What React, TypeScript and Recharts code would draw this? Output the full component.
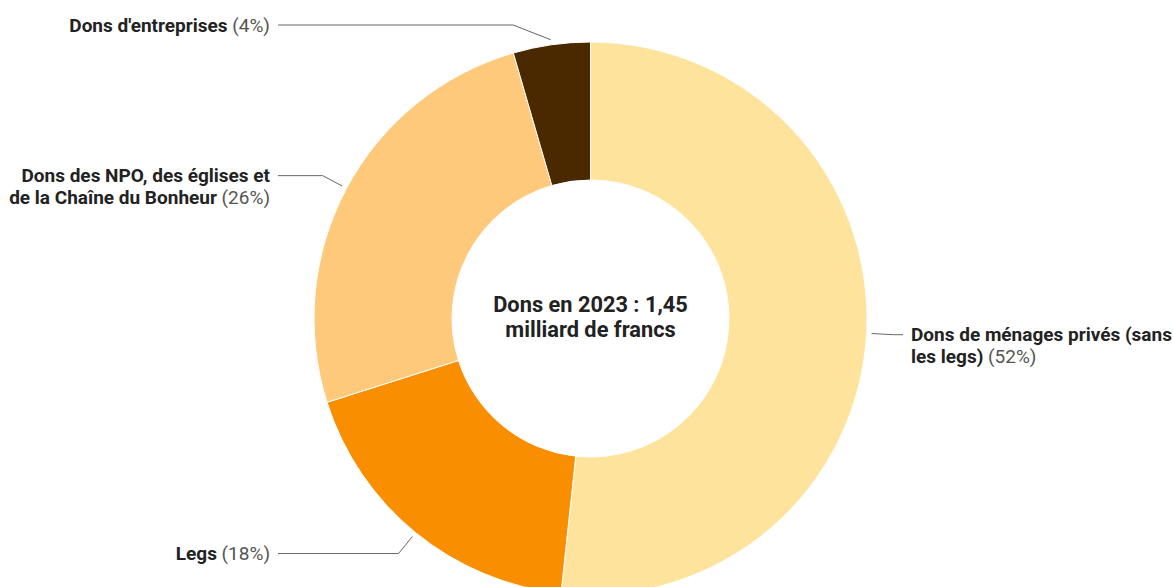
import { PieChart, Pie, Cell, Label } from "recharts";

const categories = [
  "Dons de ménages privés (sans les legs)",
  "Legs",
  "Dons des NPO, des églises et de la Chaîne du Bonheur",
  "Dons d'entreprises",
];

// label text as it wraps in the original
const labelLines = [
  ["Dons de ménages privés (sans", "les legs)"],
  ["Legs"],
  ["Dons des NPO, des églises et", "de la Chaîne du Bonheur"],
  ["Dons d'entreprises"],
];

// slice sizes (%)
const shares = [51.7, 18.4, 25.4, 4.5];

// percentages printed in the labels
const shareLabels = ["52%", "18%", "26%", "4%"];

const colors = ["#FEE39D", "#F98E00", "#FEC97A", "#4A2800"];

const centerTitle = ["Dons en 2023 : 1,45", "milliard de francs"];

const data = categories.map((name, i) => ({
  name,
  value: shares[i],
  pct: shareLabels[i],
  lines: labelLines[i],
}));

const RADIAN = Math.PI / 180;
const FONT = "Roboto, 'Noto Sans', sans-serif";

const renderLabel = (props: any) => {
  const { cx, cy, midAngle, outerRadius, index } = props;
  const cos = Math.cos(-midAngle * RADIAN);
  const sin = Math.sin(-midAngle * RADIAN);
  const side = cos >= 0 ? 1 : -1;

  const sx = cx + (outerRadius + 5) * cos;
  const sy = cy + (outerRadius + 5) * sin;
  const er = outerRadius + 27;
  let ey = cy + er * sin;
  ey = Math.max(ey, 25);
  const ex = cx + side * Math.sqrt(Math.max(er * er - (ey - cy) ** 2, 0));
  const lx = cx + side * (outerRadius + 36);
  const tx = cx + side * (outerRadius + 44);
  const lines: string[] = data[index].lines;

  return (
    <g key={`lbl-${index}`}>
      <polyline
        points={`${sx},${sy} ${ex},${ey} ${lx},${ey}`}
        fill="none"
        stroke="#666"
        strokeWidth={1}
      />
      <text
        x={tx}
        y={ey}
        textAnchor={side > 0 ? "start" : "end"}
        fontSize={19}
        fontFamily={FONT}
      >
        {lines.map((ln, i) => (
          <tspan
            key={i}
            x={tx}
            dy={i === 0 ? "0.35em" : 22}
            fontWeight={700}
            fill="#222"
          >
            {ln}
          </tspan>
        ))}
        <tspan fontWeight={400} fill="#555">
          {` (${data[index].pct})`}
        </tspan>
      </text>
    </g>
  );
};

const renderCenter = (props: any) => {
  const vb = props.viewBox || {};
  const cx = vb.cx ?? 590.5;
  const cy = vb.cy ?? 318.5;
  return (
    <text
      x={cx}
      y={cy}
      textAnchor="middle"
      fontSize={21.8}
      fontWeight={700}
      fontFamily={FONT}
      fill="#222"
    >
      <tspan x={cx} dy={-7}>
        {centerTitle[0]}
      </tspan>
      <tspan x={cx} dy={25}>
        {centerTitle[1]}
      </tspan>
    </text>
  );
};

const App = () => {
  return (
    <div style={{ position: "fixed", left: 0, top: 0, background: "#fff" }}>
      <PieChart
        width={1173}
        height={587}
        margin={{ top: 0, right: 0, bottom: 0, left: 0 }}
      >
        <Pie
          data={data}
          dataKey="value"
          nameKey="name"
          cx={590.5}
          cy={318.5}
          innerRadius={138.5}
          outerRadius={276.5}
          startAngle={90}
          endAngle={-270}
          stroke="#fff"
          strokeWidth={1}
          label={renderLabel}
          labelLine={false}
          isAnimationActive={false}
        >
          {data.map((d, i) => (
            <Cell key={d.name} fill={colors[i]} />
          ))}
          <Label position="center" content={renderCenter} />
        </Pie>
      </PieChart>
    </div>
  );
};

export default App;
